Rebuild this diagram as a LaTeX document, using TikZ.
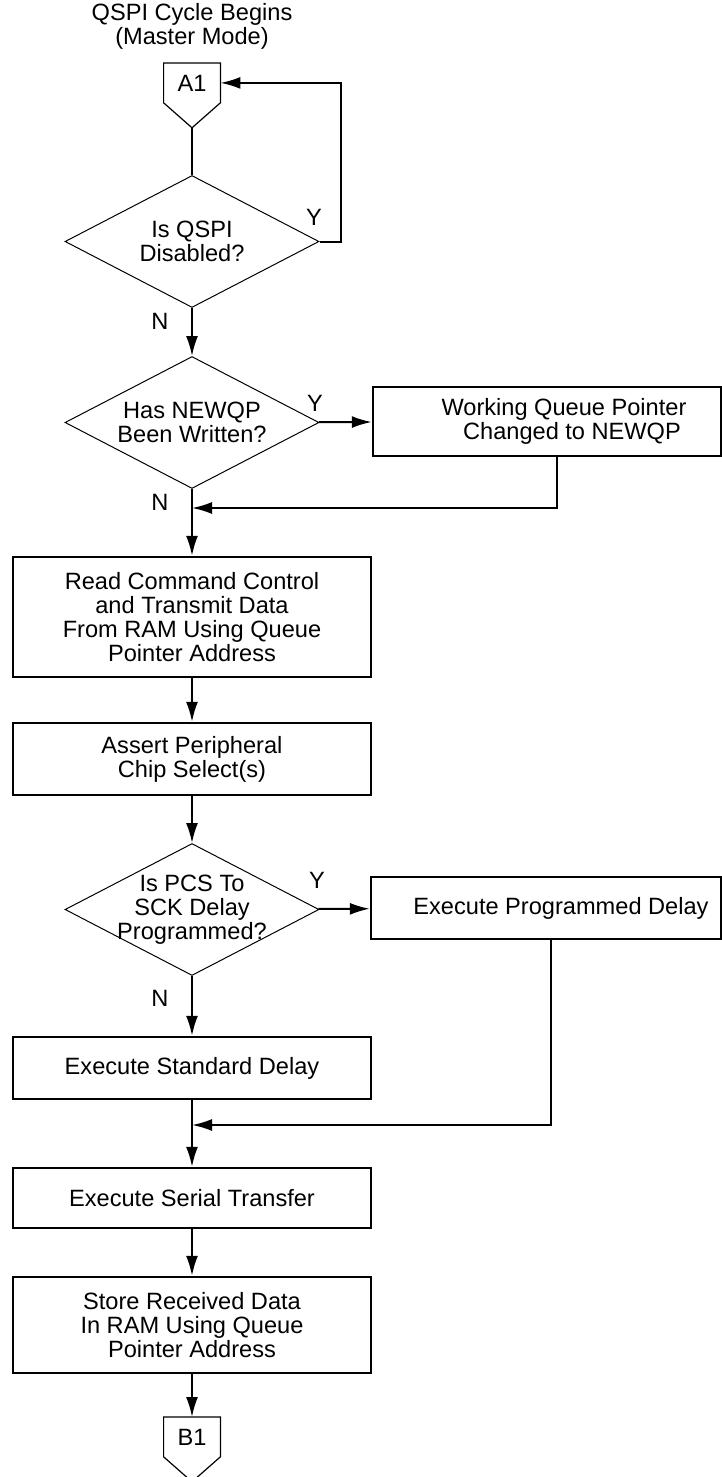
\documentclass[tikz,border=0pt]{standalone}
\usepackage{fontspec}
\setmainfont{Liberation Sans}
\usetikzlibrary{arrows.meta, positioning, shapes.geometric}
\newcommand{\flowfont}{\fontsize{11.8}{12}\selectfont}
\tikzset{
  proc/.style={rectangle, draw, line width=1.2pt, minimum width=179pt,
               inner sep=2pt, align=center, font=\flowfont},
  decide/.style={diamond, draw, line width=0.5pt, minimum width=127pt,
                 minimum height=66pt, inner sep=-20pt, align=center, font=\flowfont},
  conn/.style={rectangle, minimum width=28pt, minimum height=19.5pt,
               inner sep=0pt, font=\flowfont},
  connline/.style={line width=0.6pt, line join=miter},
  yn/.style={font=\flowfont, inner sep=0pt},
  flow/.style={-{Latex[length=10pt, width=6pt]}, line width=1pt},
  link/.style={line width=1pt},
}
\begin{document}
\begin{tikzpicture}[x=0.5pt, y=-0.5pt]
  \useasboundingbox (0,0) rectangle (722,1477);
  \node[align=center, font=\flowfont] (ttl) at (192,26) {QSPI Cycle Begins\\(Master Mode)};
  \node[conn, anchor=north] (a1) at (192,63) {A1};
  \node[decide] (d1) at (192,241.5) {Is QSPI\\Disabled?};
  \node[decide] (d2) at (192,422.5) {Has NEWQP\\Been Written?};
  \node[proc, minimum width=174pt, minimum height=34.5pt] (wqp) at (547,421.5) {\hspace*{17pt}Working Queue Pointer\\\hspace*{25pt}Changed to NEWQP};
  \node[proc, minimum height=60pt] (rd) at (192,617) {Read Command Control\\and Transmit Data\\From RAM Using Queue\\Pointer Address};
  \node[proc, minimum height=36pt] (pcs) at (192,759) {Assert Peripheral\\Chip Select(s)};
  \node[decide] (d3) at (192,909.5) {Is PCS To\\SCK Delay\\Programmed?};
  \node[proc, minimum width=175pt, minimum height=31pt] (pgd) at (546,908) {\hspace*{15pt}Execute Programmed Delay};
  \node[proc, minimum height=31pt] (std) at (192,1068) {Execute Standard Delay};
  \node[proc, minimum height=30pt] (xfer) at (192,1198) {Execute Serial Transfer};
  \node[proc, minimum height=48pt] (st) at (192,1325) {Store Received Data\\In RAM Using Queue\\Pointer Address};
  \node[conn, anchor=north] (b1) at (192,1417) {B1};
  \coordinate (a1tip) at ([yshift=-12.5pt]a1.south);
  \coordinate (b1tip) at ([yshift=-12.5pt]b1.south);
  \coordinate (m1) at (192,508);
  \coordinate (m2) at (192,1125);
  \draw[connline] (a1.south west) -- (a1.north west) -- (a1.north east) -- (a1.south east) -- (a1tip) -- cycle;
  \draw[connline] (b1.south west) -- (b1.north west) -- (b1.north east) -- (b1.south east) -- (b1tip) -- cycle;

  \node[yn] (y1) at (314,217) {Y};
  \node[yn] (n1) at (160,321) {N};
  \node[yn] (y2) at (315,403) {Y};
  \node[yn] (n2) at (160,502) {N};
  \node[yn] (y3) at (317,880) {Y};
  \node[yn] (n3) at (160,998) {N};

  \draw[link] (a1tip) -- (d1);
  \draw[flow] (d1.east) -- ++(21,0) |- (a1.east);
  \draw[flow] (d1) -- (d2);
  \draw[flow] (d2) -- (wqp);
  \draw[flow] (wqp.south) ++(10,0) |- (m1);
  \draw[flow] (d2) -- (rd);
  \draw[flow] (rd) -- (pcs);
  \draw[flow] (pcs) -- (d3);
  \draw[flow] (d3) -- (pgd);
  \draw[flow] (d3) -- (std);
  \draw[flow] (pgd.south) ++(5,0) |- (m2);
  \draw[flow] (std) -- (xfer);
  \draw[flow] (xfer) -- (st);
  \draw[flow] (st) -- (b1);
\end{tikzpicture}
\end{document}
